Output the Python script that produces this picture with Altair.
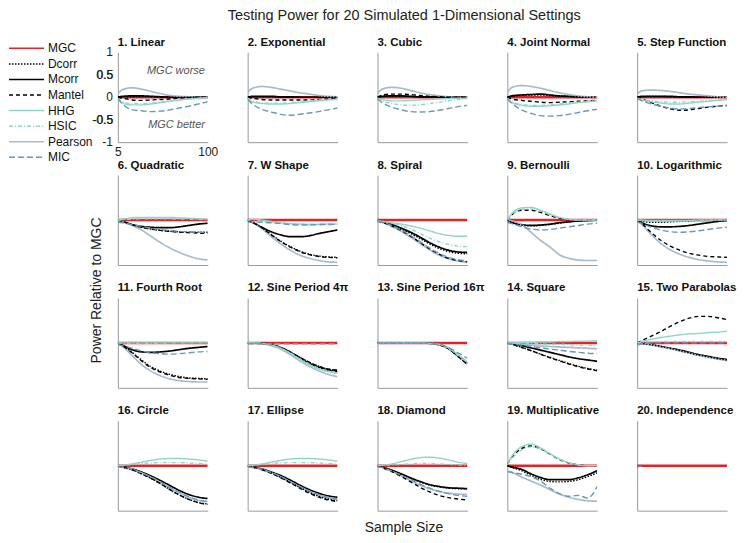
import altair as alt
import pandas as pd

N = [5, 10, 20, 30, 40, 50, 60, 70, 80, 90, 100]
METHODS = ["MGC", "Dcorr", "Mcorr", "Mantel", "HHG", "HSIC", "Pearson", "MIC"]
COLORS = ["#e52228", "#000000", "#000000", "#000000", "#8fd5c8", "#8fd5c8", "#a6bbcf", "#6c96b8"]
DASHES = [[1, 0], [1.5, 1.5], [1, 0], [4, 3], [1, 0], [4, 2, 1, 2], [1, 0], [6, 3]]
ZERO = [0] * 11

LINEAR = {
    "Dcorr": [0, 0.01, 0.01, 0.01, 0.01, 0, 0, 0, 0, 0, 0],
    "Mcorr": [0, 0.02, 0.03, 0.03, 0.02, 0.01, 0, 0, 0, 0, 0],
    "Mantel": [0, -0.02, -0.06, -0.07, -0.06, -0.05, -0.04, -0.02, -0.01, 0, 0],
    "HHG": [-0.03, -0.13, -0.17, -0.17, -0.15, -0.12, -0.09, -0.06, -0.04, -0.02, -0.01],
    "HSIC": [-0.02, -0.1, -0.14, -0.14, -0.13, -0.1, -0.08, -0.06, -0.04, -0.03, -0.02],
    "Pearson": [0.07, 0.17, 0.21, 0.18, 0.13, 0.08, 0.04, 0.02, 0.01, 0, 0],
    "MIC": [-0.03, -0.15, -0.28, -0.3, -0.32, -0.31, -0.28, -0.24, -0.2, -0.15, -0.1],
}
EXPONENTIAL = {
    "Dcorr": [0, 0.01, 0.01, 0.01, 0, 0, 0, 0, 0, 0, 0],
    "Mcorr": [0, 0.02, 0.02, 0.02, 0.01, 0.01, 0, 0, 0, 0, 0],
    "Mantel": [0, -0.02, -0.05, -0.06, -0.06, -0.06, -0.06, -0.06, -0.05, -0.04, -0.03],
    "HHG": [-0.03, -0.1, -0.14, -0.15, -0.15, -0.14, -0.12, -0.1, -0.08, -0.06, -0.05],
    "HSIC": [-0.02, -0.08, -0.12, -0.13, -0.13, -0.12, -0.1, -0.08, -0.06, -0.05, -0.04],
    "Pearson": [0.1, 0.2, 0.24, 0.22, 0.18, 0.14, 0.1, 0.07, 0.04, 0.02, 0.01],
    "MIC": [-0.05, -0.15, -0.27, -0.33, -0.38, -0.4, -0.38, -0.35, -0.32, -0.28, -0.24],
}
CUBIC = {
    "Dcorr": [0, 0.02, 0.03, 0.03, 0.02, 0.01, 0, 0, 0, 0, 0],
    "Mcorr": [0, 0.02, 0.03, 0.03, 0.02, 0.01, 0.01, 0, 0, 0, 0],
    "Mantel": [0, 0.05, 0.07, 0.07, 0.06, 0.04, 0.02, 0.01, 0, 0, 0],
    "HHG": [-0.02, -0.05, -0.08, -0.08, -0.07, -0.06, -0.05, -0.04, -0.03, -0.02, -0.02],
    "HSIC": [-0.02, -0.08, -0.14, -0.17, -0.18, -0.17, -0.14, -0.11, -0.08, -0.05, -0.03],
    "Pearson": [0.08, 0.18, 0.22, 0.2, 0.15, 0.1, 0.06, 0.03, 0.01, 0, 0],
    "MIC": [-0.04, -0.12, -0.22, -0.28, -0.32, -0.33, -0.32, -0.29, -0.25, -0.21, -0.18],
}
JOINT_NORMAL = {
    "Dcorr": [0, 0.02, 0.04, 0.05, 0.05, 0.04, 0.03, 0.02, 0.01, 0, 0],
    "Mcorr": [0, 0.03, 0.05, 0.06, 0.07, 0.05, 0.03, 0.02, 0.01, 0, 0],
    "Mantel": [0, -0.04, -0.07, -0.09, -0.11, -0.12, -0.11, -0.1, -0.09, -0.08, -0.07],
    "HHG": [-0.03, -0.12, -0.18, -0.2, -0.2, -0.19, -0.17, -0.15, -0.12, -0.1, -0.08],
    "HSIC": [-0.02, -0.1, -0.16, -0.18, -0.18, -0.17, -0.15, -0.13, -0.11, -0.09, -0.07],
    "Pearson": [0.1, 0.22, 0.26, 0.24, 0.2, 0.15, 0.1, 0.06, 0.03, 0.01, 0],
    "MIC": [-0.04, -0.14, -0.28, -0.36, -0.41, -0.42, -0.41, -0.38, -0.34, -0.3, -0.27],
}
STEP = {
    "Dcorr": [0, 0.01, 0.02, 0.02, 0.01, 0.01, 0, 0, 0, 0, 0],
    "Mcorr": [0, 0.02, 0.02, 0.02, 0.02, 0.01, 0.01, 0, 0, 0, 0],
    "Mantel": [0, -0.04, -0.12, -0.2, -0.26, -0.29, -0.28, -0.25, -0.22, -0.2, -0.18],
    "HHG": [-0.02, -0.06, -0.1, -0.13, -0.15, -0.15, -0.13, -0.11, -0.09, -0.07, -0.05],
    "HSIC": [-0.02, -0.05, -0.08, -0.1, -0.11, -0.11, -0.1, -0.09, -0.07, -0.06, -0.05],
    "Pearson": [0.07, 0.14, 0.16, 0.15, 0.13, 0.1, 0.07, 0.05, 0.03, 0.01, 0],
    "MIC": [-0.03, -0.08, -0.15, -0.2, -0.24, -0.26, -0.25, -0.23, -0.21, -0.2, -0.19],
}
QUADRATIC = {
    "Dcorr": [0, -0.03, -0.1, -0.16, -0.2, -0.23, -0.25, -0.26, -0.27, -0.27, -0.27],
    "Mcorr": [0, -0.03, -0.1, -0.14, -0.16, -0.17, -0.17, -0.15, -0.12, -0.09, -0.07],
    "Mantel": [0, -0.03, -0.1, -0.16, -0.2, -0.23, -0.25, -0.27, -0.28, -0.29, -0.3],
    "HHG": [0, 0.02, 0.05, 0.06, 0.06, 0.06, 0.06, 0.05, 0.04, 0.03, 0.02],
    "HSIC": [0, 0.01, 0.02, 0.03, 0.03, 0.03, 0.03, 0.02, 0.02, 0.01, 0.01],
    "Pearson": [0, -0.03, -0.12, -0.22, -0.36, -0.5, -0.62, -0.72, -0.8, -0.86, -0.89],
    "MIC": [-0.05, -0.06, -0.1, -0.14, -0.18, -0.21, -0.23, -0.25, -0.26, -0.27, -0.28],
}
W_SHAPE = {
    "Dcorr": [0, -0.05, -0.17, -0.32, -0.47, -0.59, -0.69, -0.76, -0.8, -0.82, -0.83],
    "Mcorr": [0, -0.05, -0.16, -0.26, -0.33, -0.37, -0.37, -0.35, -0.3, -0.26, -0.22],
    "Mantel": [0, -0.05, -0.17, -0.33, -0.48, -0.6, -0.7, -0.77, -0.81, -0.83, -0.84],
    "HHG": [0, 0.02, 0, -0.03, -0.06, -0.08, -0.09, -0.1, -0.1, -0.09, -0.09],
    "HSIC": [0, 0.01, -0.01, -0.04, -0.06, -0.08, -0.09, -0.09, -0.09, -0.08, -0.08],
    "Pearson": [0, -0.05, -0.19, -0.37, -0.53, -0.67, -0.78, -0.85, -0.9, -0.93, -0.94],
    "MIC": [-0.05, -0.04, -0.05, -0.06, -0.08, -0.1, -0.11, -0.11, -0.1, -0.1, -0.09],
}
SPIRAL = {
    "Dcorr": [-0.02, -0.04, -0.11, -0.2, -0.3, -0.41, -0.53, -0.63, -0.7, -0.74, -0.75],
    "Mcorr": [-0.02, -0.04, -0.1, -0.18, -0.27, -0.38, -0.5, -0.6, -0.67, -0.71, -0.72],
    "Mantel": [-0.02, -0.05, -0.13, -0.23, -0.36, -0.5, -0.64, -0.76, -0.85, -0.9, -0.93],
    "HHG": [-0.02, -0.03, -0.06, -0.09, -0.13, -0.18, -0.24, -0.3, -0.34, -0.36, -0.36],
    "HSIC": [-0.02, -0.03, -0.07, -0.12, -0.2, -0.3, -0.4, -0.48, -0.54, -0.58, -0.59],
    "Pearson": [-0.02, -0.05, -0.14, -0.25, -0.38, -0.52, -0.66, -0.78, -0.86, -0.91, -0.94],
    "MIC": [-0.03, -0.05, -0.12, -0.22, -0.34, -0.48, -0.62, -0.74, -0.83, -0.88, -0.91],
}
BERNOULLI = {
    "Dcorr": [0, -0.06, -0.11, -0.13, -0.12, -0.1, -0.07, -0.04, -0.02, -0.01, 0],
    "Mcorr": [0, -0.05, -0.1, -0.12, -0.11, -0.09, -0.06, -0.04, -0.02, -0.01, 0],
    "Mantel": [0, 0.12, 0.22, 0.22, 0.17, 0.1, 0.04, 0.01, 0, 0, 0],
    "HHG": [0, 0.15, 0.27, 0.28, 0.22, 0.14, 0.06, 0.02, 0, 0, 0],
    "HSIC": [0, 0.12, 0.24, 0.25, 0.2, 0.12, 0.05, 0.02, 0, 0, 0],
    "Pearson": [0, -0.02, -0.1, -0.27, -0.45, -0.6, -0.77, -0.85, -0.89, -0.9, -0.9],
    "MIC": [-0.05, -0.08, -0.15, -0.2, -0.22, -0.21, -0.18, -0.15, -0.12, -0.09, -0.07],
}
LOGARITHMIC = {
    "Dcorr": [0, -0.03, -0.05, -0.05, -0.04, -0.03, -0.02, -0.01, -0.01, 0, 0],
    "Mcorr": [0, -0.06, -0.13, -0.15, -0.15, -0.14, -0.12, -0.09, -0.06, -0.03, -0.01],
    "Mantel": [0, -0.08, -0.28, -0.45, -0.58, -0.67, -0.74, -0.78, -0.81, -0.82, -0.83],
    "HHG": [0, 0, -0.01, -0.01, -0.01, -0.01, -0.01, 0, 0, 0, 0],
    "HSIC": [0, -0.01, -0.02, -0.02, -0.02, -0.02, -0.01, -0.01, -0.01, 0, 0],
    "Pearson": [0, -0.1, -0.32, -0.52, -0.66, -0.76, -0.83, -0.88, -0.91, -0.93, -0.94],
    "MIC": [-0.04, -0.08, -0.16, -0.22, -0.26, -0.27, -0.26, -0.24, -0.21, -0.18, -0.16],
}
FOURTH_ROOT = {
    "Dcorr": [0, -0.06, -0.21, -0.38, -0.53, -0.63, -0.7, -0.75, -0.78, -0.79, -0.8],
    "Mcorr": [0, -0.05, -0.15, -0.2, -0.21, -0.2, -0.18, -0.15, -0.12, -0.1, -0.08],
    "Mantel": [0, -0.06, -0.22, -0.4, -0.55, -0.65, -0.72, -0.77, -0.79, -0.8, -0.81],
    "HHG": [0, 0, 0, 0, 0, 0, 0, 0, 0, 0, 0],
    "HSIC": [0, -0.01, -0.01, -0.01, -0.01, -0.01, 0, 0, 0, 0, 0],
    "Pearson": [0, -0.08, -0.28, -0.48, -0.63, -0.73, -0.8, -0.84, -0.86, -0.87, -0.87],
    "MIC": [-0.04, -0.06, -0.12, -0.18, -0.22, -0.24, -0.25, -0.24, -0.22, -0.2, -0.19],
}
SINE_4PI = {
    "Dcorr": [0, 0, -0.01, -0.04, -0.1, -0.2, -0.32, -0.43, -0.52, -0.58, -0.61],
    "Mcorr": [0, 0, -0.01, -0.04, -0.11, -0.21, -0.33, -0.45, -0.54, -0.6, -0.64],
    "Mantel": [0, 0, -0.01, -0.04, -0.1, -0.2, -0.32, -0.43, -0.52, -0.58, -0.61],
    "HHG": [0, 0, -0.01, -0.05, -0.12, -0.23, -0.36, -0.48, -0.58, -0.64, -0.68],
    "HSIC": [0, 0, -0.01, -0.05, -0.12, -0.22, -0.35, -0.47, -0.56, -0.62, -0.66],
    "Pearson": [0, 0, -0.02, -0.06, -0.14, -0.26, -0.4, -0.52, -0.62, -0.7, -0.75],
    "MIC": [-0.02, -0.02, -0.02, -0.02, -0.02, -0.02, -0.02, -0.02, -0.02, -0.02, -0.02],
}
SINE_16PI = {
    "Dcorr": [0, 0, 0, 0, 0, 0, -0.01, -0.04, -0.13, -0.3, -0.47],
    "Mcorr": [0, 0, 0, 0, 0, 0, -0.01, -0.04, -0.12, -0.28, -0.45],
    "Mantel": [0, 0, 0, 0, 0, 0, -0.01, -0.04, -0.13, -0.3, -0.48],
    "HHG": [0, 0, 0, 0, 0, 0, -0.01, -0.03, -0.11, -0.26, -0.42],
    "HSIC": [0, 0, 0, 0, 0, 0, -0.01, -0.03, -0.12, -0.27, -0.44],
    "Pearson": [0, 0, 0, 0, 0, 0, -0.01, -0.04, -0.13, -0.29, -0.46],
    "MIC": [0, 0, 0, 0, 0, 0, -0.01, -0.03, -0.1, -0.22, -0.34],
}
SQUARE = {
    "Dcorr": [0, -0.03, -0.1, -0.17, -0.25, -0.32, -0.39, -0.46, -0.52, -0.57, -0.61],
    "Mcorr": [0, -0.02, -0.06, -0.11, -0.16, -0.21, -0.26, -0.31, -0.35, -0.38, -0.41],
    "Mantel": [0, -0.03, -0.1, -0.17, -0.25, -0.33, -0.4, -0.47, -0.53, -0.58, -0.62],
    "HHG": [0, 0, 0.01, 0.01, 0.02, 0.02, 0.03, 0.03, 0.04, 0.04, 0.05],
    "HSIC": [0, 0, -0.01, -0.01, -0.02, -0.03, -0.03, -0.04, -0.05, -0.05, -0.06],
    "Pearson": [0, -0.01, -0.03, -0.05, -0.07, -0.08, -0.09, -0.1, -0.11, -0.12, -0.13],
    "MIC": [-0.02, -0.03, -0.05, -0.08, -0.11, -0.14, -0.16, -0.19, -0.21, -0.23, -0.24],
}
TWO_PARABOLAS = {
    "Dcorr": [0, -0.01, -0.04, -0.08, -0.12, -0.17, -0.22, -0.27, -0.31, -0.35, -0.38],
    "Mcorr": [0, -0.01, -0.04, -0.08, -0.12, -0.16, -0.21, -0.26, -0.3, -0.34, -0.37],
    "Mantel": [0, 0.05, 0.15, 0.25, 0.37, 0.47, 0.55, 0.59, 0.59, 0.56, 0.52],
    "HHG": [0, 0.03, 0.08, 0.12, 0.15, 0.18, 0.2, 0.21, 0.23, 0.24, 0.26],
    "HSIC": [0, 0.01, 0.02, 0.03, 0.03, 0.03, 0.03, 0.03, 0.03, 0.03, 0.03],
    "Pearson": [0, -0.01, -0.04, -0.09, -0.13, -0.18, -0.23, -0.28, -0.32, -0.36, -0.39],
    "MIC": [-0.05, -0.02, 0, 0, 0, 0, 0, 0, 0, 0, 0],
}
CIRCLE = {
    "Dcorr": [0, -0.03, -0.09, -0.18, -0.28, -0.4, -0.53, -0.65, -0.75, -0.82, -0.85],
    "Mcorr": [0, -0.02, -0.07, -0.14, -0.23, -0.33, -0.44, -0.55, -0.64, -0.7, -0.73],
    "Mantel": [0, -0.03, -0.09, -0.18, -0.28, -0.4, -0.53, -0.65, -0.75, -0.82, -0.86],
    "HHG": [0, 0.01, 0.04, 0.08, 0.12, 0.15, 0.16, 0.16, 0.15, 0.13, 0.1],
    "HSIC": [0, 0.01, 0.03, 0.05, 0.06, 0.07, 0.07, 0.07, 0.06, 0.05, 0.04],
    "Pearson": [0, -0.03, -0.08, -0.16, -0.26, -0.37, -0.49, -0.6, -0.7, -0.77, -0.8],
    "MIC": [-0.03, -0.03, -0.08, -0.16, -0.25, -0.36, -0.48, -0.59, -0.69, -0.76, -0.79],
}
ELLIPSE = {
    "Dcorr": [0, -0.03, -0.08, -0.16, -0.26, -0.37, -0.48, -0.59, -0.68, -0.74, -0.78],
    "Mcorr": [0, -0.02, -0.07, -0.14, -0.22, -0.32, -0.43, -0.53, -0.61, -0.67, -0.7],
    "Mantel": [0, -0.03, -0.09, -0.17, -0.27, -0.38, -0.5, -0.61, -0.7, -0.76, -0.8],
    "HHG": [0, 0.01, 0.04, 0.08, 0.12, 0.15, 0.16, 0.16, 0.15, 0.13, 0.1],
    "HSIC": [0, 0.01, 0.03, 0.05, 0.06, 0.07, 0.07, 0.07, 0.06, 0.05, 0.04],
    "Pearson": [0, -0.03, -0.08, -0.16, -0.25, -0.36, -0.47, -0.57, -0.65, -0.71, -0.75],
    "MIC": [-0.03, -0.04, -0.08, -0.15, -0.24, -0.35, -0.46, -0.56, -0.64, -0.7, -0.74],
}
DIAMOND = {
    "Dcorr": [0, -0.03, -0.1, -0.19, -0.28, -0.36, -0.43, -0.47, -0.5, -0.51, -0.52],
    "Mcorr": [0, -0.03, -0.1, -0.18, -0.27, -0.35, -0.42, -0.46, -0.49, -0.5, -0.51],
    "Mantel": [0, -0.04, -0.13, -0.24, -0.36, -0.48, -0.58, -0.66, -0.71, -0.74, -0.76],
    "HHG": [0, 0.01, 0.04, 0.09, 0.14, 0.18, 0.19, 0.17, 0.13, 0.08, 0.05],
    "HSIC": [0, 0.01, 0.02, 0.03, 0.04, 0.05, 0.05, 0.04, 0.03, 0.02, 0.01],
    "Pearson": [0, -0.04, -0.12, -0.22, -0.33, -0.43, -0.51, -0.57, -0.61, -0.63, -0.64],
    "MIC": [-0.03, -0.04, -0.12, -0.21, -0.31, -0.41, -0.5, -0.57, -0.62, -0.66, -0.68],
}
MULTIPLICATIVE = {
    "Dcorr": [0, -0.04, -0.11, -0.21, -0.3, -0.35, -0.36, -0.35, -0.31, -0.24, -0.16],
    "Mcorr": [0, -0.03, -0.08, -0.18, -0.26, -0.31, -0.31, -0.31, -0.27, -0.2, -0.11],
    "Mantel": [0.04, 0.2, 0.38, 0.44, 0.38, 0.26, 0.14, 0.06, 0.02, 0, 0],
    "HHG": [0.05, 0.22, 0.42, 0.48, 0.4, 0.27, 0.15, 0.07, 0.02, 0, 0],
    "HSIC": [0.02, 0.16, 0.35, 0.42, 0.37, 0.26, 0.15, 0.07, 0.02, 0, 0],
    "Pearson": [-0.12, -0.15, -0.25, -0.34, -0.43, -0.53, -0.63, -0.7, -0.75, -0.78, -0.79],
    "MIC": [-0.13, -0.15, -0.19, -0.24, -0.34, -0.5, -0.62, -0.68, -0.66, -0.72, -0.46],
}
INDEPENDENCE = {
    "MIC": [-0.03, -0.01],
}

PANELS = [
    ("1. Linear", LINEAR), ("2. Exponential", EXPONENTIAL), ("3. Cubic", CUBIC),
    ("4. Joint Normal", JOINT_NORMAL), ("5. Step Function", STEP),
    ("6. Quadratic", QUADRATIC), ("7. W Shape", W_SHAPE), ("8. Spiral", SPIRAL),
    ("9. Bernoulli", BERNOULLI), ("10. Logarithmic", LOGARITHMIC),
    ("11. Fourth Root", FOURTH_ROOT), ("12. Sine Period 4\u03c0", SINE_4PI),
    ("13. Sine Period 16\u03c0", SINE_16PI), ("14. Square", SQUARE),
    ("15. Two Parabolas", TWO_PARABOLAS), ("16. Circle", CIRCLE), ("17. Ellipse", ELLIPSE),
    ("18. Diamond", DIAMOND), ("19. Multiplicative", MULTIPLICATIVE), ("20. Independence", INDEPENDENCE),
]

Y_TICKS = [-1, -0.5, 0, 0.5, 1]
Y_TICK_LABELS = ["-1", "-0.5", "0", "0.5", "1"]
Y_HALF_TICKS = [-0.5, 0.5]
X_TICKS = [5, 100]
NOTE_TEXT = ["MGC worse", "MGC better"]
NOTE_X = [97, 97]
NOTE_Y = [0.58, -0.62]

FONT = "Liberation Sans"
AXIS_GRAY = "#9a9a9a"
W, H = 90, 90


def make_panel(idx, title, series):
    rows = []
    for m in METHODS:
        if m == "MGC":
            vals = ZERO
        elif m in series:
            vals = series[m]
        else:
            continue
        for n, v in zip(N, vals):
            rows.append({"n": n, "power": v, "method": m})
    df = pd.DataFrame(rows)

    first = idx == 0
    yaxis_kw = dict(domainColor=AXIS_GRAY, ticks=False, grid=False, title=None)
    xaxis_kw = dict(domainColor=AXIS_GRAY, ticks=False, grid=False)
    if first:
        # the half ticks go through the axis (only two values, so none are thinned out)
        yaxis_kw.update(values=Y_HALF_TICKS, labels=True, labelExpr="datum.value + ''",
                        labelFontSize=12, labelColor="#222", labelPadding=5, labelOverlap=False,
                        labelFont=FONT)
        xaxis_kw.update(values=X_TICKS, labels=True, labelExpr="datum.value + ''",
                        labelFontSize=12, labelColor="#222", labelPadding=4, title=None,
                        labelFlush=False, labelOverlap=False, labelFont=FONT)
    else:
        yaxis_kw.update(labels=False)
        xaxis_kw.update(labels=False, title=None)
    if idx == 5:
        yaxis_kw.update(title="Power Relative to MGC", titleFontSize=14, titleFontWeight="normal",
                        titleColor="#222", titleX=-21, titleY=115, titleAngle=270,
                        titleAlign="center", titleBaseline="middle")
    if idx == 17:
        xaxis_kw.update(title="Sample Size", titleFontSize=14, titleFontWeight="normal",
                        titleColor="#222", titleX=26, titleY=21, titleAlign="center",
                        titleBaseline="alphabetic")

    x = alt.X("n:Q", scale=alt.Scale(domain=[5, 100], nice=False, zero=False),
              axis=alt.Axis(**xaxis_kw))
    y = alt.Y("power:Q", scale=alt.Scale(domain=[-1, 1], nice=False),
              axis=alt.Axis(**yaxis_kw))
    legend = alt.Legend(orient="none", legendX=-110, legendY=-10, title=None)
    color = alt.Color("method:N", scale=alt.Scale(domain=METHODS, range=COLORS), legend=legend)
    dash = alt.StrokeDash("method:N", scale=alt.Scale(domain=METHODS, range=DASHES), legend=legend)

    base = alt.Chart(df).encode(x=x, y=y, color=color, strokeDash=dash)
    mgc = base.transform_filter(alt.datum.method == "MGC").mark_line(
        strokeWidth=2.5, interpolate="monotone", clip=True)
    thick = base.transform_filter(
        (alt.datum.method == "Mcorr") | (alt.datum.method == "Pearson")).mark_line(
        strokeWidth=1.7, interpolate="monotone", clip=True)
    thin = base.transform_filter(
        (alt.datum.method != "MGC") & (alt.datum.method != "Mcorr") & (alt.datum.method != "Pearson")
    ).mark_line(strokeWidth=1.4, interpolate="monotone", clip=True)
    layers = [mgc, thick, thin]
    if first:
        notes = pd.DataFrame({"n": NOTE_X, "power": NOTE_Y, "txt": NOTE_TEXT})
        layers.append(alt.Chart(notes).mark_text(
            align="right", baseline="middle", fontStyle="italic", fontSize=11, color="#555", font=FONT
        ).encode(x=x, y=y, text="txt:N"))
        ylab = pd.DataFrame({"n": [X_TICKS[0]] * len(Y_TICKS), "power": Y_TICKS, "lab": Y_TICK_LABELS})
        layers.append(alt.Chart(ylab).mark_text(
            align="right", baseline="middle", fontSize=12, color="#222", font=FONT, dx=-5
        ).encode(x=x, y=y, text="lab:N"))
    return alt.layer(*layers).properties(
        width=W, height=H,
        title=alt.TitleParams(title, anchor="start", frame="group", fontSize=11.5, fontWeight="bold",
                              offset=(-2 if first else 4), color="#111", font=FONT),
    )


charts = [make_panel(i, t, s) for i, (t, s) in enumerate(PANELS)]

chart = alt.concat(
    *charts, columns=5, bounds="flush", spacing={"row": 33, "column": 40},
    title=alt.TitleParams("Testing Power for 20 Simulated 1-Dimensional Settings", fontSize=14.5,
                          fontWeight="normal", anchor="middle", color="#222", font=FONT, offset=13,
                          dx=32),
).configure(
    font=FONT, padding=0,
).configure_view(stroke=None).configure_legend(
    symbolType="stroke", symbolSize=1225, symbolStrokeWidth=1.5,
    labelFontSize=12, labelFont=FONT, labelColor="#111", clipHeight=12, rowPadding=3.6,
    padding=0, labelOffset=3,
)

chart.save("out.html", embed_options={"renderer": "svg", "actions": False})
